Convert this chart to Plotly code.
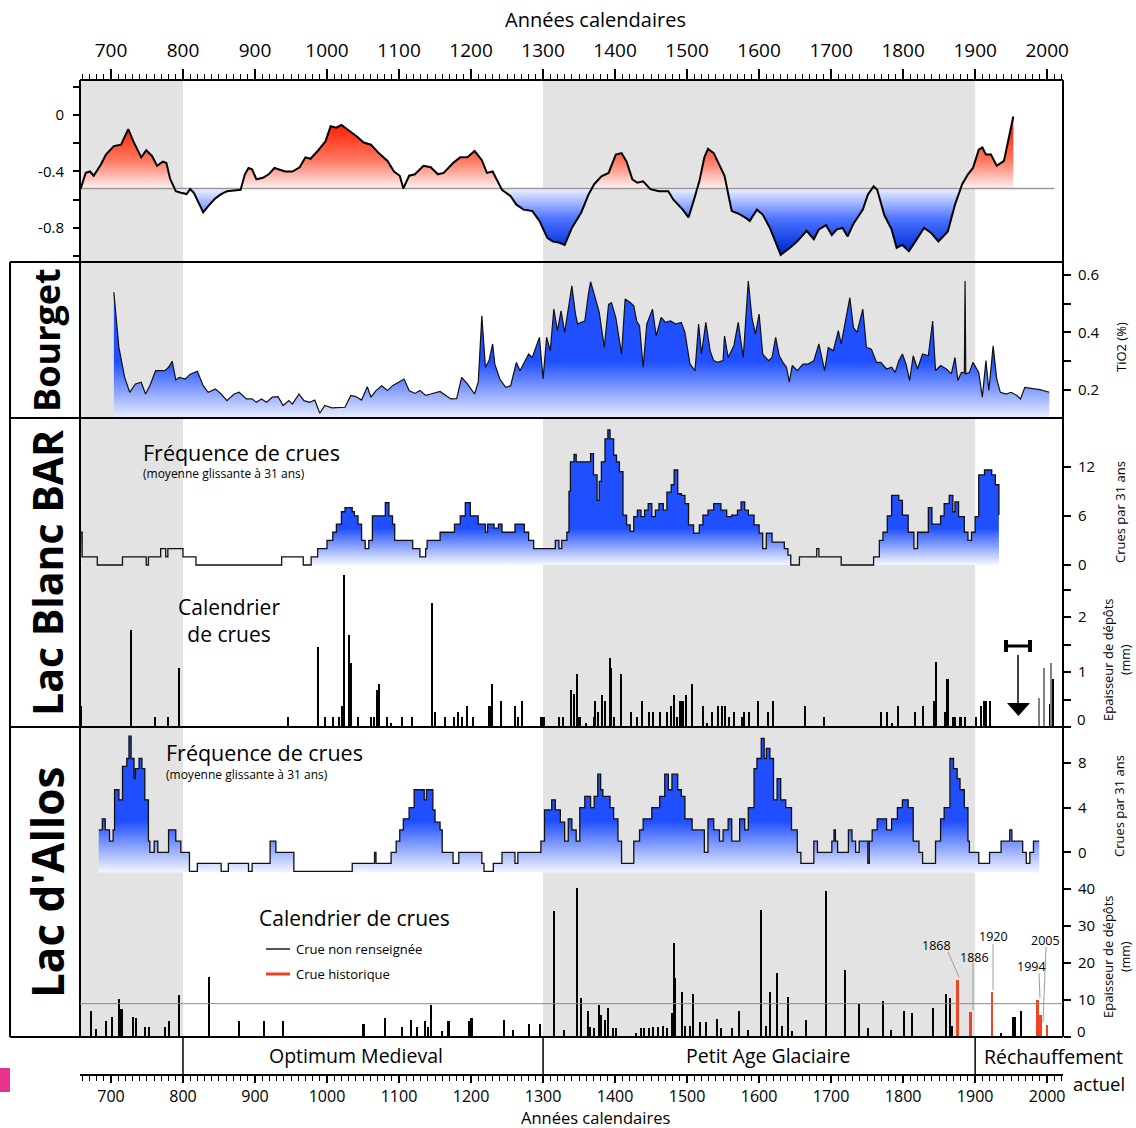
import numpy as np
import plotly.graph_objects as go

W, H = 1136, 1128
def px(x): return x / W
def py(y): return 1 - y / H

X_RANGE = [657, 2022]
BASE_T = -0.52          # reference level of the temperature anomaly panel
ALLOS_BASE = -1.8       # bottom of the Allos frequency fill
ALLOS_REF_MM = 9        # horizontal reference line in the Allos calendar

# ---------------- Temperature anomaly (top panel) ----------------
TEMP_YEARS = [658,665,671,676,686,693,704,714,724,731,742,749,757,764,772,777,782,790,797,805,
              810,815,823,828,835,845,853,861,871,880,886,891,896,902,911,919,927,934,942,952,
              962,970,977,987,998,1005,1013,1020,1028,1041,1051,1061,1071,1084,1093,1101,1106,1114,1122,1134,
              1144,1154,1162,1175,1185,1195,1205,1215,1222,1230,1243,1255,1263,1273,1285,1295,1306,1313,1323,1330,
              1340,1353,1363,1371,1381,1391,1401,1409,1416,1424,1431,1439,1449,1461,1474,1481,1494,1502,1509,1517,
              1524,1529,1537,1544,1552,1562,1572,1582,1587,1597,1605,1615,1625,1630,1643,1653,1666,1676,1683,1693,
              1701,1708,1716,1723,1731,1744,1751,1759,1764,1774,1784,1791,1799,1808,1817,1829,1839,1849,1862,1872,
              1882,1890,1897,1905,1910,1915,1922,1930,1940,1945,1953]
TEMP_VALUES = [-0.52,-0.41,-0.40,-0.43,-0.35,-0.28,-0.22,-0.21,-0.10,-0.185,-0.30,-0.25,-0.29,-0.36,-0.33,-0.34,-0.45,-0.54,-0.55,-0.56,
               -0.525,-0.55,-0.635,-0.69,-0.645,-0.59,-0.56,-0.54,-0.535,-0.53,-0.42,-0.375,-0.385,-0.455,-0.445,-0.42,-0.375,-0.385,-0.40,-0.40,
               -0.37,-0.30,-0.31,-0.255,-0.185,-0.08,-0.09,-0.07,-0.10,-0.15,-0.195,-0.21,-0.265,-0.325,-0.40,-0.43,-0.52,-0.43,-0.42,-0.36,
               -0.37,-0.42,-0.41,-0.34,-0.30,-0.30,-0.255,-0.32,-0.41,-0.40,-0.53,-0.575,-0.635,-0.67,-0.68,-0.75,-0.87,-0.895,-0.905,-0.92,
               -0.80,-0.69,-0.565,-0.49,-0.435,-0.41,-0.28,-0.27,-0.33,-0.455,-0.48,-0.47,-0.525,-0.54,-0.54,-0.60,-0.67,-0.725,-0.61,-0.47,
               -0.30,-0.24,-0.27,-0.34,-0.43,-0.68,-0.70,-0.73,-0.75,-0.67,-0.705,-0.80,-0.92,-0.99,-0.94,-0.895,-0.82,-0.88,-0.81,-0.78,
               -0.85,-0.81,-0.80,-0.86,-0.77,-0.67,-0.565,-0.505,-0.53,-0.71,-0.81,-0.94,-0.92,-0.965,-0.895,-0.80,-0.835,-0.895,-0.825,-0.635,
               -0.49,-0.42,-0.375,-0.245,-0.23,-0.28,-0.28,-0.36,-0.325,-0.195,-0.01]

# ---------------- Bourget TiO2 ----------------
BOURGET_YEARS = [704,711,719,726,734,742,748,754,762,775,780,785,790,795,803,810,820,828,835,845,
                 853,861,871,878,888,896,902,909,916,924,932,939,947,952,961,968,976,983,990,997,
                 1007,1018,1025,1033,1040,1048,1056,1061,1068,1076,1084,1091,1099,1107,1114,1122,1129,1137,1144,1157,
                 1165,1172,1180,1187,1195,1205,1210,1215,1220,1225,1230,1233,1240,1248,1255,1263,1268,1275,1280,1285,
                 1290,1295,1300,1305,1310,1315,1320,1325,1330,1335,1340,1345,1348,1353,1358,1363,1366,1371,1378,1385,
                 1391,1395,1401,1409,1414,1421,1426,1430,1434,1439,1444,1452,1457,1464,1470,1477,1484,1492,1497,1504,
                 1511,1516,1520,1526,1532,1537,1542,1550,1552,1557,1565,1571,1578,1585,1590,1595,1600,1605,1613,1618,
                 1623,1628,1633,1638,1642,1646,1653,1661,1668,1676,1683,1691,1696,1703,1710,1714,1720,1726,1731,1736,
                 1744,1749,1756,1763,1769,1777,1784,1789,1794,1799,1804,1809,1814,1820,1827,1835,1841,1845,1852,1860,
                 1867,1872,1876,1881,1885,1886,1887,1892,1897,1905,1910,1915,1919,1925,1930,1935,1943,1950,1958,1963,
                 1969,1980,1990,2003]
BOURGET_TIO2 = [0.54,0.348,0.244,0.192,0.221,0.227,0.186,0.215,0.267,0.267,0.279,0.30,0.235,0.244,0.238,0.255,0.265,0.215,0.192,0.204,
                0.186,0.163,0.186,0.192,0.169,0.169,0.157,0.169,0.157,0.175,0.177,0.146,0.163,0.151,0.186,0.163,0.157,0.165,0.119,0.146,
                0.138,0.138,0.14,0.181,0.177,0.165,0.211,0.175,0.198,0.215,0.198,0.215,0.227,0.238,0.198,0.188,0.198,0.181,0.186,0.195,
                0.181,0.169,0.17,0.244,0.221,0.186,0.227,0.458,0.279,0.302,0.36,0.29,0.238,0.209,0.215,0.296,0.267,0.302,0.325,0.313,
                0.348,0.383,0.238,0.383,0.336,0.481,0.406,0.475,0.40,0.487,0.562,0.464,0.429,0.435,0.44,0.533,0.577,0.533,0.47,0.348,
                0.498,0.504,0.452,0.325,0.516,0.504,0.493,0.44,0.423,0.279,0.429,0.481,0.388,0.452,0.435,0.44,0.429,0.435,0.40,0.29,
                0.267,0.429,0.325,0.435,0.336,0.302,0.296,0.302,0.388,0.313,0.354,0.435,0.313,0.579,0.452,0.394,0.464,0.325,0.302,0.313,
                0.383,0.319,0.296,0.279,0.227,0.285,0.267,0.29,0.29,0.302,0.36,0.267,0.348,0.336,0.406,0.36,0.44,0.521,0.417,0.40,
                0.481,0.348,0.342,0.296,0.296,0.273,0.279,0.261,0.302,0.325,0.29,0.233,0.319,0.273,0.325,0.319,0.44,0.267,0.285,0.273,
                0.256,0.313,0.233,0.261,0.26,0.579,0.256,0.261,0.296,0.261,0.175,0.302,0.198,0.354,0.238,0.192,0.186,0.192,0.181,0.169,
                0.209,0.206,0.201,0.192]

# ---------------- Lac Blanc : flood frequency (31-yr) ----------------
LB_FREQ_YEARS = [657,660,681,716,749,752,769,776,779,800,818,937,967,978,987,1000,1008,1013,1020,1025,
                 1035,1038,1043,1048,1053,1058,1063,1076,1081,1086,1091,1094,1112,1119,1129,1137,1139,1157,1177,1185,
                 1192,1199,1210,1220,1223,1232,1238,1243,1261,1274,1280,1287,1317,1322,1326,1333,1336,1338,1343,1346,
                 1366,1370,1375,1378,1381,1386,1390,1393,1398,1402,1406,1411,1416,1421,1426,1431,1436,1441,1446,1451,
                 1456,1461,1467,1472,1478,1482,1487,1492,1497,1502,1509,1517,1522,1529,1537,1547,1555,1562,1570,1575,
                 1580,1585,1593,1600,1605,1610,1618,1635,1640,1644,1656,1680,1683,1714,1759,1767,1772,1778,1784,1794,
                 1799,1807,1815,1820,1835,1840,1852,1857,1864,1869,1872,1877,1885,1890,1895,1900,1905,1913,1923,1928,
                 1933]
LB_FREQ = [4,1,0,1,0,1,2,1,2,1,0,1,0,1,2,3,4,5,6.5,7,
           6.5,6,5,3,2,3,6,6,7.6,6,5,3,3,2,1,2,3,4,5,6,
           7.6,6,5,4,5,4.5,5,4,5,4,3,2,3,2,3,4,9,12.6,13.5,12.6,
           13.6,11,7.9,10.2,12.6,15.4,16.5,15.4,13.4,12.6,11.4,6.1,4.9,4.1,5.9,6.7,5.9,6.7,7.5,5.9,
           6.7,7.5,6.7,8.9,9.8,11.6,8.7,8.5,7.5,4.9,3.9,4.9,6.1,6.7,7.5,6.7,5.9,6.1,6.7,7.7,
           6.7,6.1,4.9,3.9,2,3.9,2.8,2,1.2,0,1,2,1,0,1,3,4,6,8.5,7.9,
           6.1,4,2,4,7,5,6,7.5,8.5,6.5,7.7,5.9,4,3,4,5.9,11,11.6,11,9.8,
           6.1]
LB_FILLED_SPANS = [(657, 660), (978, 1644), (1759, 1933)]

# ---------------- Lac Blanc : flood calendar (mm) ----------------
LB_CAL_YEARS = [659,728,762,779,795,946,988,997,1009,1017,1021,1024,1031,1033,1043,1061,1065,1070,1073,1084,
                1089,1105,1118,1146,1150,1164,1177,1182,1188,1195,1203,1226,1229,1242,1261,1266,1271,1298,1301,1323,
                1328,1339,1343,1347,1351,1360,1371,1373,1377,1382,1386,1393,1394,1399,1409,1423,1431,1438,1447,1453,
                1463,1472,1478,1482,1486,1490,1494,1499,1507,1522,1528,1535,1543,1549,1553,1559,1566,1577,1580,1586,
                1599,1613,1620,1664,1691,1769,1778,1785,1793,1817,1828,1843,1846,1859,1862,1870,1873,1880,1886,1901,
                1908,1913,1916,1921,2004,2009]
LB_CAL_MM = [0.38,1.76,0.18,0.18,1.07,0.18,1.45,0.18,0.18,0.18,0.38,2.76,1.67,1.17,0.18,0.18,0.18,0.68,0.78,0.18,
             0.08,0.18,0.18,2.26,0.28,0.18,0.18,0.28,0.18,0.38,0.18,0.38,0.78,0.48,0.38,0.18,0.48,0.18,0.18,0.18,
             0.18,0.68,0.6,0.97,0.18,0.08,0.18,0.48,0.28,0.58,0.48,1.26,1.08,0.18,0.97,0.28,0.18,0.48,0.28,0.28,
             0.28,0.28,0.38,0.58,0.18,0.48,0.48,0.58,0.78,0.38,0.08,0.28,0.38,0.38,0.38,0.18,0.28,0.18,0.28,0.28,
             0.48,0.28,0.48,0.38,0.18,0.28,0.28,0.08,0.38,0.28,0.38,0.48,1.19,0.28,0.88,0.18,0.18,0.18,0.18,0.18,
             0.38,0.48,0.48,0.48,0.42,0.87]
LB_RECENT_YEARS = [1989, 1996, 2006]
LB_RECENT_MM = [0.53, 1.07, 1.17]

# ---------------- Lac d'Allos : flood frequency (31-yr) ----------------
AL_FREQ_YEARS = [683,688,692,698,703,705,709,711,716,722,725,728,732,734,739,743,747,752,754,760,
                 765,780,790,797,809,820,853,863,891,896,921,929,954,1035,1066,1068,1089,1096,1101,1106,
                 1114,1121,1135,1138,1147,1150,1157,1160,1175,1183,1215,1218,1231,1243,1261,1265,1297,1302,1312,1317,
                 1324,1330,1335,1340,1346,1351,1358,1366,1371,1376,1380,1383,1393,1398,1404,1409,1426,1434,1439,1451,
                 1462,1469,1474,1479,1487,1492,1497,1507,1524,1529,1537,1545,1550,1557,1562,1573,1580,1585,1593,1597,
                 1603,1607,1610,1615,1620,1625,1630,1637,1645,1653,1658,1676,1681,1701,1704,1706,1709,1724,1729,1734,
                 1739,1751,1753,1757,1764,1777,1784,1792,1799,1807,1814,1822,1827,1845,1852,1857,1865,1870,1875,1879,
                 1885,1890,1892,1905,1920,1936,1948,1951,1966,1971,1976,1981,1989]
AL_FREQ = [2,3,2,1,2,5.6,5.6,4.7,7.7,8.4,10.4,8.4,6.6,7.5,8.4,7.5,4.7,1,0,1,
           0,2,1,0,-1.7,-1,-1.7,-1,-1.7,-1,1,0,-1.7,-1,0,-1,0,1,2,3,
           4,5.6,4.7,5.6,3.8,2.7,2,0,-1,0,-1,-1.7,-1,0,-1,0,1,3.8,4.7,3.8,
           2.7,1,3,2,1,4,5,4,5,7,5.6,5,4,3,1,-1,1,2,3,4,
           5,7,5.6,7,5.6,5,3,2,0,3,2,1,2,3,1,3,2,4,7.5,8.4,
           10.2,8.4,9.3,8.4,4.7,6.6,4.7,4,2,0,-1,1,0,1,2,1,0,2,1,0,
           1,-1,1,2,3,2,3,4,4.7,4,1,0,-1,1,3,4,8.4,7.5,6.6,5.6,
           4,1,0,-1,0,1,2,1,0,-1,0,1,1]

# ---------------- Lac d'Allos : flood calendar (mm) ----------------
AL_CAL_YEARS = [672,679,694,702,712,715,731,735,747,753,775,781,795,836,878,913,939,1051,1081,1105,
                1117,1125,1136,1140,1145,1160,1169,1197,1201,1246,1259,1281,1296,1316,1329,1347,1353,1363,1366,1371,
                1378,1381,1386,1391,1398,1401,1430,1436,1441,1447,1453,1460,1467,1472,1479,1482,1484,1493,1498,1504,
                1509,1518,1527,1542,1547,1563,1573,1585,1603,1610,1616,1625,1632,1640,1646,1665,1693,1719,1739,1751,
                1773,1784,1802,1813,1842,1860,1865,1868,1893,1936,1953,1956,1964]
AL_CAL_MM = [7.1,2.1,4.2,5.5,10.2,7.5,5.5,5,2.8,2.8,2.8,4.2,11.4,16.3,4.2,4.2,4.2,3.5,5,2.8,
             4.6,2.8,4.2,2.8,8.6,1.5,4.2,4.2,5,4.6,2,3.5,3.5,34.1,2,40.2,10.4,7.1,2.8,2.5,
             8.6,5.9,4.6,7.7,2.5,2.5,1,2.5,2.5,2.5,2.7,2.7,3,2.5,6.4,25.3,16,12.2,3,3,
             11.5,4,4,4.8,2.5,2.5,7.1,2,34.3,3,12.2,17.2,3,10.7,1.6,4.6,39.3,18,8.8,2.5,
             9.7,2,7.1,6.6,7.9,11.6,10.4,3,2.5,1.2,5.5,5.5,7.1]
AL_HIST_YEARS = [1876, 1894, 1924, 1987, 1991, 2000]
AL_HIST_MM = [15.4, 6.7, 12.2, 10, 5.9, 3.2]
AL_HIST_LABELS = ["1868", "1886", "1920", "1994", "2005"]

PERIODS = ["Optimum Medieval", "Petit Age Glaciaire", "Réchauffement"]
GRAY_BANDS = [(652, 800), (1300, 1900)]
PERIOD_LIMITS = [800, 1300, 1900]

# ---------------------------------------------------------------------
BLUE = "#1f4fff"
FONT = "'Open Sans', Lato, sans-serif"

fig = go.Figure()
common = dict(hoverinfo="skip", showlegend=False)

# Temperature panel
ty = np.array(TEMP_YEARS, dtype=float)
tv = np.array(TEMP_VALUES, dtype=float)
base = np.full_like(tv, BASE_T)
fig.add_trace(go.Scatter(x=ty, y=base, mode="lines", line=dict(width=0), xaxis="x", yaxis="y", **common))
fig.add_trace(go.Scatter(x=ty, y=np.maximum(tv, BASE_T), mode="lines", line=dict(width=0), fill="tonexty",
                         fillgradient=dict(type="vertical", start=BASE_T, stop=-0.1,
                                           colorscale=[[0, "#fff2f0"], [0.45, "#ff7d68"], [1, "#ff2a0a"]]),
                         xaxis="x", yaxis="y", **common))
fig.add_trace(go.Scatter(x=ty, y=base, mode="lines", line=dict(width=0), xaxis="x", yaxis="y", **common))
fig.add_trace(go.Scatter(x=ty, y=np.minimum(tv, BASE_T), mode="lines", line=dict(width=0), fill="tonexty",
                         fillgradient=dict(type="vertical", start=-0.95, stop=BASE_T,
                                           colorscale=[[0, "#0030d8"], [0.5, "#4d74ff"], [1, "#eef2ff"]]),
                         xaxis="x", yaxis="y", **common))
fig.add_trace(go.Scatter(x=[X_RANGE[0], 2010], y=[BASE_T, BASE_T], mode="lines",
                         line=dict(color="#9a9a9a", width=1.5), xaxis="x", yaxis="y", **common))
fig.add_trace(go.Scatter(x=ty, y=tv, mode="lines", line=dict(color="black", width=2),
                         xaxis="x", yaxis="y", **common))

# Bourget panel
fig.add_trace(go.Scatter(x=BOURGET_YEARS, y=BOURGET_TIO2, mode="lines", fill="tozeroy",
                         line=dict(color="#111111", width=1.2),
                         fillgradient=dict(type="vertical", start=0.103, stop=0.30,
                                           colorscale=[[0, "#e9edff"], [1, BLUE]]),
                         xaxis="x", yaxis="y2", **common))

# Lac Blanc frequency
lby = np.array(LB_FREQ_YEARS, dtype=float)
lbv = np.array(LB_FREQ, dtype=float)
for a, b in LB_FILLED_SPANS:
    m = (lby >= a) & (lby <= b)
    fig.add_trace(go.Scatter(x=lby[m], y=lbv[m], mode="lines", line=dict(width=0, shape="hv"), fill="tozeroy",
                             fillgradient=dict(type="vertical", start=0, stop=4.5,
                                               colorscale=[[0, "#f7f8ff"], [1, BLUE]]),
                             xaxis="x", yaxis="y3", **common))
fig.add_trace(go.Scatter(x=lby, y=lbv, mode="lines", line=dict(color="#111111", width=1.3, shape="hv"),
                         xaxis="x", yaxis="y3", **common))

# Lac Blanc calendar
fig.add_trace(go.Bar(x=LB_CAL_YEARS, y=LB_CAL_MM, width=2.2, marker=dict(color="black", line=dict(width=0)),
                     xaxis="x", yaxis="y4", **common))
fig.add_trace(go.Bar(x=LB_RECENT_YEARS, y=LB_RECENT_MM, width=2.2, marker=dict(color="#808080", line=dict(width=0)),
                     xaxis="x", yaxis="y4", **common))

# Lac d'Allos frequency
aly = np.array(AL_FREQ_YEARS, dtype=float)
alv = np.array(AL_FREQ, dtype=float)
fig.add_trace(go.Scatter(x=aly, y=np.full_like(alv, ALLOS_BASE), mode="lines", line=dict(width=0, shape="hv"),
                         xaxis="x", yaxis="y5", **common))
fig.add_trace(go.Scatter(x=aly, y=alv, mode="lines", line=dict(width=0, shape="hv"), fill="tonexty",
                         fillgradient=dict(type="vertical", start=ALLOS_BASE, stop=2.8,
                                           colorscale=[[0, "#f4f6ff"], [1, BLUE]]),
                         xaxis="x", yaxis="y5", **common))
fig.add_trace(go.Scatter(x=aly, y=alv, mode="lines", line=dict(color="#111111", width=1.3, shape="hv"),
                         xaxis="x", yaxis="y5", **common))

# Lac d'Allos calendar (on the bottom axis x2)
fig.add_trace(go.Bar(x=AL_CAL_YEARS, y=AL_CAL_MM, width=2.2, marker=dict(color="black", line=dict(width=0)),
                     xaxis="x2", yaxis="y6", **common))
fig.add_trace(go.Bar(x=AL_HIST_YEARS, y=AL_HIST_MM, width=2.6, marker=dict(color="#ee4422", line=dict(width=0)),
                     xaxis="x2", yaxis="y6", **common))

# ---------------- axes ----------------
tickstyle = dict(ticks="outside", tickcolor="black", tickwidth=1.5, showgrid=False, zeroline=False,
                 showline=False, automargin=False)

def right_axis(dom_top, dom_bot, rng, vals, texts):
    return dict(domain=[py(dom_bot), py(dom_top)], range=rng, anchor="free", position=px(1063), side="right",
                tickvals=vals, ticktext=texts, ticklen=7, tickfont=dict(size=15, family=FONT),
                ticklabelstandoff=4, **tickstyle)

fig.update_layout(
    width=W, height=H, margin=dict(l=0, r=0, t=0, b=0, autoexpand=False),
    paper_bgcolor="white", plot_bgcolor="rgba(0,0,0,0)",
    showlegend=False, barmode="overlay", bargap=0,
    font=dict(family=FONT, color="black"),
    xaxis=dict(domain=[px(80), px(1063)], range=X_RANGE, side="top", anchor="free", position=py(80),
               showline=True, linecolor="black", linewidth=2, automargin=False,
               tickvals=list(range(700, 2001, 100)), ticklen=10, tickfont=dict(size=19, family=FONT),
               ticklabelstandoff=4,
               minor=dict(dtick=10, tick0=700, ticklen=5, tickwidth=1, tickcolor="black", ticks="outside",
                          showgrid=False),
               ticks="outside", tickcolor="black", tickwidth=1.5, showgrid=False, zeroline=False),
    xaxis2=dict(domain=[px(80), px(1063)], range=X_RANGE, side="bottom", anchor="free", position=py(1075),
                showline=True, linecolor="black", linewidth=1.5, automargin=False,
                tickvals=list(range(700, 2001, 100)), ticklen=7, tickfont=dict(size=16, family=FONT),
                minor=dict(dtick=10, tick0=700, ticklen=5, tickwidth=1, tickcolor="black", ticks="outside",
                           showgrid=False),
                ticks="outside", tickcolor="black", tickwidth=1.5, showgrid=False, zeroline=False),
    yaxis=dict(domain=[py(262), py(80)], range=[-1.041, 0.248], anchor="free", position=px(80), side="left",
               tickvals=[0.2, 0, -0.2, -0.4, -0.6, -0.8, -1.0], ticktext=["", "0", "", "-0.4", "", "-0.8", ""],
               ticklen=7, tickfont=dict(size=15, family=FONT), ticklabelstandoff=6, **tickstyle),
    yaxis2=right_axis(262, 418, [0.1026, 0.645], [0.6, 0.5, 0.4, 0.3, 0.2], ["0.6", "", "0.4", "", "0.2"]),
    yaxis3=right_axis(418, 575, [-1.22, 17.95], [0, 6, 12], ["0", "6", "12"]),
    yaxis4=right_axis(570, 727, [0, 2.855], [0, 0.5, 1, 1.5, 2, 2.5], ["", "", "1", "", "2", ""]),
    yaxis5=right_axis(727, 880, [-2.48, 11.22], [0, 4, 8], ["0", "4", "8"]),
    yaxis6=right_axis(880, 1037, [0, 42.4], [0, 10, 20, 30, 40], ["", "10", "20", "30", "40"]),
)

# ---------------- shapes ----------------
shapes = []
for a, b in GRAY_BANDS:
    shapes.append(dict(type="rect", xref="x", yref="paper", x0=a, x1=b, y0=py(1037), y1=py(81),
                       fillcolor="#e3e3e3", line=dict(width=0), layer="below"))

def hline(y, x0, x1, w=2, c="black"):
    shapes.append(dict(type="line", xref="paper", yref="paper", x0=px(x0), x1=px(x1), y0=py(y), y1=py(y),
                       line=dict(color=c, width=w)))

def vline(x, y0, y1, w=2, c="black"):
    shapes.append(dict(type="line", xref="paper", yref="paper", x0=px(x), x1=px(x), y0=py(y0), y1=py(y1),
                       line=dict(color=c, width=w)))

for y in (262, 418, 727, 1037):
    hline(y, 10, 1063)
vline(10, 262, 1037)
vline(80, 80, 1037)
vline(1063, 80, 1037)
for yr in PERIOD_LIMITS:
    shapes.append(dict(type="line", xref="x", yref="paper", x0=yr, x1=yr, y0=py(1075), y1=py(1037),
                       line=dict(color="black", width=1.5)))

# Allos reference line
shapes.append(dict(type="line", xref="paper", yref="y6", x0=px(80), x1=px(1063), y0=ALLOS_REF_MM, y1=ALLOS_REF_MM,
                   line=dict(color="#8a8a8a", width=1)))

# legend marks (Allos)
hline(949, 266, 290, w=2, c="#555555")
hline(974, 266, 290, w=3, c="#ee4422")

# leader lines for historical floods
for (x0, y0, x1, y1) in [(948, 952, 959, 977), (973, 963, 973, 1010), (993, 944, 993, 990),
                         (1039, 973, 1040, 998), (1046, 947, 1043, 1022)]:
    shapes.append(dict(type="line", xref="paper", yref="paper", x0=px(x0), x1=px(x1), y0=py(y0), y1=py(y1),
                       line=dict(color="#9a9a9a", width=1)))

# Lac Blanc dating uncertainty symbol + arrow
hline(646, 1006, 1030, w=3)
vline(1006, 640, 652, w=4)
vline(1030, 640, 652, w=4)
vline(1018, 655, 704, w=1.5)
shapes.append(dict(type="path", xref="paper", yref="paper",
                   path=f"M {px(1007)} {py(703)} L {px(1030)} {py(703)} L {px(1018.5)} {py(716)} Z",
                   fillcolor="black", line=dict(width=0)))

# pink mark at the left edge
shapes.append(dict(type="rect", xref="paper", yref="paper", x0=0, x1=px(10), y0=py(1092), y1=py(1068),
                   fillcolor="#e8338a", line=dict(width=0)))

fig.update_layout(shapes=shapes)

# ---------------- text ----------------
anns = []
def ann(text, x, y, size, family=FONT, xanchor="center", yanchor="middle", angle=0, color="black", bold=False):
    if bold:
        text = f"<b>{text}</b>"
    anns.append(dict(text=text, x=px(x), y=py(y), xref="paper", yref="paper", showarrow=False,
                     xanchor=xanchor, yanchor=yanchor, textangle=angle, borderpad=0,
                     font=dict(size=size, family=family, color=color)))

ann("Années calendaires", 595, 20, 20)
ann("Années calendaires", 595, 1117, 16.5)
ann("Bourget", 47, 340, 36, bold=True, angle=-90)
ann("Lac Blanc BAR", 47, 573, 41, bold=True, angle=-90)
ann("Lac d'Allos", 47, 883, 44, bold=True, angle=-90)

ann("Fréquence de crues", 142, 452, 21.5, xanchor="left")
ann("(moyenne glissante à 31 ans)", 142, 473, 12, xanchor="left")
ann("Calendrier<br>de crues", 229, 621, 21)
ann("Fréquence de crues", 165, 752, 21.5, xanchor="left")
ann("(moyenne glissante à 31 ans)", 165, 774, 12, xanchor="left")
ann("Calendrier de crues", 258, 918, 21, xanchor="left")
ann("Crue non renseignée", 295, 949, 13, xanchor="left")
ann("Crue historique", 295, 974, 13, xanchor="left")

for lab, (x, y) in zip(AL_HIST_LABELS,
                       [(936, 945), (974, 957), (993, 936), (1031, 966), (1045, 940)]):
    ann(lab, x, y, 12.5)

# zero labels of the two calendar axes sit slightly above their tick
ann("0", 1076, 719, 15, xanchor="left")
ann("0", 1076, 1031, 15, xanchor="left")

ann("TiO2 (%)", 1121, 347, 13, angle=-90)
ann("Crues par 31 ans", 1120, 512, 13, angle=-90)
ann("Epaisseur de dépôts", 1108, 660, 13, angle=-90)
ann("(mm)", 1125, 660, 12.5, angle=-90)
ann("Crues par 31 ans", 1119, 806, 13, angle=-90)
ann("Epaisseur de dépôts", 1108, 957, 13, angle=-90)
ann("(mm)", 1125, 957, 12.5, angle=-90)

ann(PERIODS[0], 356, 1055, 19.5)
ann(PERIODS[1], 768, 1055, 19.5)
ann(PERIODS[2], 983, 1056, 19.5, xanchor="left")
ann("actuel", 1072, 1083, 18.5, xanchor="left")

fig.update_layout(annotations=anns)

# pin the graph to the top-left corner so the page is exactly the window size
fig.write_html("out.html", config={"displayModeBar": False},
               post_script=("document.body.style.margin='0';"
                            "document.documentElement.style.overflow='hidden';"
                            "var g=document.getElementById('{plot_id}');"
                            "g.style.position='fixed';g.style.left='0px';g.style.top='0px';"))
